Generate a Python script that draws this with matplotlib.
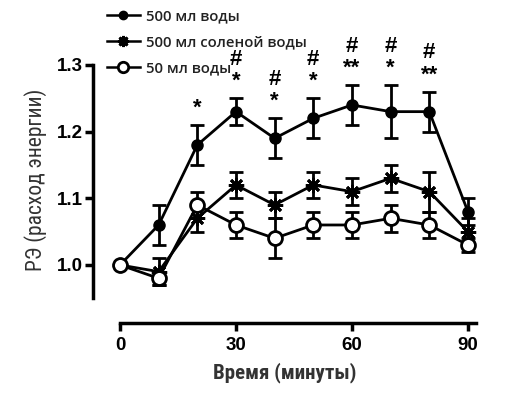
import matplotlib
matplotlib.use("Agg")
import matplotlib.pyplot as plt
import numpy as np

# ---- data ----
minutes = [0, 10, 20, 30, 40, 50, 60, 70, 80, 90]
water500 = [1.00, 1.06, 1.18, 1.23, 1.19, 1.22, 1.24, 1.23, 1.23, 1.08]
water500_err = [0.00, 0.03, 0.03, 0.02, 0.03, 0.03, 0.03, 0.04, 0.03, 0.02]
salt500 = [1.00, 0.99, 1.07, 1.12, 1.09, 1.12, 1.11, 1.13, 1.11, 1.05]
salt500_err = [0.00, 0.02, 0.02, 0.02, 0.02, 0.02, 0.02, 0.02, 0.03, 0.02]
water50 = [1.00, 0.98, 1.09, 1.06, 1.04, 1.06, 1.06, 1.07, 1.06, 1.03]
water50_err = [0.00, 0.01, 0.02, 0.02, 0.03, 0.02, 0.02, 0.02, 0.02, 0.01]
labels = ["500 мл воды", "500 мл соленой воды", "50 мл воды"]
star_marks = ["", "", "*", "*", "*", "*", "**", "*", "**", ""]
hash_marks = ["", "", "", "#", "#", "#", "#", "#", "#", ""]
xticks = [0, 30, 60, 90]
yticks = [1.0, 1.1, 1.2, 1.3]
xlabel = "Время (минуты)"
ylabel = "РЭ (расход энергии)"

W, H = 510, 405
fig = plt.figure(figsize=(W / 100, H / 100), dpi=100)
ax = fig.add_axes([0.1822, 0.2025, 0.7505, 0.7523])
ax.set_xlim(-7, 92)
ax.set_ylim(0.913, 1.37)

narrow = ["Roboto Condensed", "Liberation Sans Narrow", "Roboto", "DejaVu Sans"]
bold_font = ["Liberation Sans", "DejaVu Sans"]
legend_font = ["Open Sans", "DejaVu Sans"]

common = dict(color="black", lw=2.0, capsize=5, capthick=2.0, elinewidth=2.0)
e1 = ax.errorbar(minutes, water500, yerr=water500_err, marker="o", ms=8,
                 mfc="black", mec="black", zorder=3, **common)
e2 = ax.errorbar(minutes, salt500, yerr=salt500_err, marker=(8, 2, 0), ms=11,
                 mfc="black", mec="black", mew=2.0, zorder=3, **common)
e3 = ax.errorbar(minutes, water50, yerr=water50_err, marker="o", ms=10,
                 mfc="white", mec="black", mew=2.0, zorder=4, **common)

for x, y, e, s, h in zip(minutes, water500, water500_err, star_marks, hash_marks):
    top = y + e
    if s:
        ax.text(x, top + 0.025, s, ha="center", va="center", fontsize=16,
                family=bold_font, fontweight="bold", clip_on=False)
    if h:
        ax.text(x, top + 0.058, h, ha="center", va="center", fontsize=16,
                family=bold_font, fontweight="bold", clip_on=False)

for side in ["top", "right"]:
    ax.spines[side].set_visible(False)
ax.spines["left"].set_bounds(0.95, 1.3)
ax.spines["bottom"].set_bounds(0, 92)
ax.spines["left"].set_linewidth(2.5)
ax.spines["bottom"].set_linewidth(2.5)
ax.set_xticks(xticks)
ax.set_yticks(yticks)
ax.set_yticklabels([f"{v:.1f}" for v in yticks])
ax.tick_params(width=2.5, length=6, direction="out")
ax.tick_params(axis="y", pad=1)
ax.tick_params(axis="x", pad=4)
for lab in ax.get_xticklabels() + ax.get_yticklabels():
    lab.set_family(bold_font)
    lab.set_fontweight("bold")
    lab.set_fontsize(13.5)

ax.set_xlabel(xlabel, family=narrow, fontweight="bold", fontsize=15,
              color="#333333", labelpad=6)
ax.set_ylabel(ylabel, family=narrow, fontweight="normal", fontsize=15.5,
              color="#333333")
ax.yaxis.set_label_coords(-0.12, 0.469)

leg = ax.legend([e1[0], e2[0], e3[0]], labels, loc="upper left",
                bbox_to_anchor=(107 / W, 1 - 9 / H),
                bbox_transform=fig.transFigure, frameon=False,
                prop={"family": legend_font, "weight": "semibold", "size": 10.7},
                handlelength=2.2, handletextpad=0.45, labelspacing=0.82,
                borderpad=0, borderaxespad=0)
for t in leg.get_texts():
    t.set_color("#222222")
for hnd, ms in zip(leg.legend_handles, [6, 8, 7.5]):
    hnd.set_markersize(ms)
    hnd.set_linewidth(1.8)

fig.savefig("out.png", dpi=100)
